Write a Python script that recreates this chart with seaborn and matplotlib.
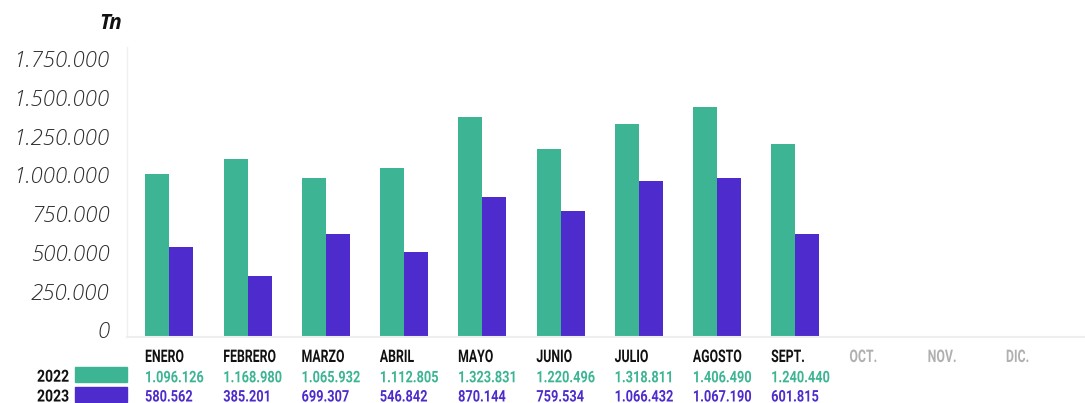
"""Monthly tonnage 2022 vs 2023, grouped bars with a value table underneath."""
import matplotlib
matplotlib.use("Agg")
import matplotlib.pyplot as plt
import matplotlib.transforms as mtransforms
from matplotlib.patches import Rectangle
from matplotlib.patheffects import AbstractPathEffect
import seaborn as sns
import pandas as pd

sns.set_theme(style="white")

months = ["ENERO", "FEBRERO", "MARZO", "ABRIL", "MAYO", "JUNIO",
          "JULIO", "AGOSTO", "SEPT.", "OCT.", "NOV.", "DIC."]
years = ["2022", "2023"]
# bar heights as drawn in the picture (Tn)
tn_2022 = [1052000, 1148000, 1026000, 1090000, 1419000, 1213000, 1374000, 1484000, 1245000]
tn_2023 = [581000, 394000, 665000, 548000, 903000, 813000, 1006000, 1026000, 665000]
# printed figures in the table
labels_2022 = ["1.096.126", "1.168.980", "1.065.932", "1.112.805", "1.323.831",
               "1.220.496", "1.318.811", "1.406.490", "1.240.440"]
labels_2023 = ["580.562", "385.201", "699.307", "546.842", "870.144",
               "759.534", "1.066.432", "1.067.190", "601.815"]
yticks = [0, 250000, 500000, 750000, 1000000, 1250000, 1500000, 1750000]
ytick_labels = ["0", "250.000", "500.000", "750.000", "1.000.000",
                "1.250.000", "1.500.000", "1.750.000"]

GREEN = "#3db594"
PURPLE = "#4e2bcc"
colors = {"2022": GREEN, "2023": PURPLE}


class Squeeze(AbstractPathEffect):
    """Draw text narrower, like a condensed face (none is installed)."""

    def __init__(self, sx):
        super().__init__()
        self.sx = sx

    def draw_path(self, renderer, gc, tpath, affine, rgbFace=None):
        renderer.draw_path(gc, tpath, mtransforms.Affine2D().scale(self.sx, 1) + affine, rgbFace)


n = len(tn_2022)
df = pd.DataFrame({
    "mes": months[:n] * 2,
    "anio": ["2022"] * n + ["2023"] * n,
    "tn": tn_2022 + tn_2023,
})

fig = plt.figure(figsize=(10.85, 4.03), dpi=100)
ax = fig.add_axes([127 / 1085, 66 / 403, 1 - 127 / 1085, 290 / 403])

sns.barplot(data=df, x="mes", y="tn", hue="anio", order=months, hue_order=years,
            palette=colors, width=0.613, saturation=1, legend=False,
            linewidth=0, ax=ax)

ax.set_xlim(-0.54, 11.70)
ax.set_ylim(0, 1870000)
ax.set_xlabel("")
ax.set_ylabel("")
ax.set_xticks([])
ax.set_yticks(yticks)
ax.set_yticklabels(ytick_labels, fontfamily="Open Sans", fontstyle="italic",
                   fontweight="light", fontsize=16, color="#2b2b2b")
ax.tick_params(axis="y", length=9.5, width=1, color="#efefef", pad=3, direction="out")
# labels sit a little above their tick
for lab in ax.get_yticklabels():
    lab.set_transform(lab.get_transform() + mtransforms.ScaledTranslation(0, 7 / 100, fig.dpi_scale_trans))

for side in ["top", "right"]:
    ax.spines[side].set_visible(False)
ax.spines["left"].set_color("#f0f0f0")
ax.spines["bottom"].set_color("#eeeeee")
ax.spines["left"].set_linewidth(1)
ax.spines["bottom"].set_linewidth(1.5)

fig.text(122 / 1085, (403 - 29) / 403, "Tn", ha="right", va="baseline", family="Open Sans",
         fontsize=15, fontweight="bold", fontstyle="italic", color="#111111")

# value table under the chart
tab = mtransforms.blended_transform_factory(ax.transData, fig.transFigure)
tfont = dict(family="Roboto", weight="bold")
for i, m in enumerate(months):
    col = "#111111" if i < n else "#b0b0b0"
    ax.text(i - 0.31, (403 - 362) / 403, m, transform=tab, ha="left", va="baseline",
            fontsize=12.5, color=col, clip_on=False, path_effects=[Squeeze(0.71)], **tfont)
for i in range(n):
    ax.text(i - 0.31, (403 - 382.3) / 403, labels_2022[i], transform=tab, ha="left",
            va="baseline", fontsize=11.5, color=GREEN, clip_on=False,
            path_effects=[Squeeze(0.8)], **tfont)
    ax.text(i - 0.31, (403 - 401.5) / 403, labels_2023[i], transform=tab, ha="left",
            va="baseline", fontsize=11.5, color=PURPLE, clip_on=False,
            path_effects=[Squeeze(0.8)], **tfont)

for yr, base in zip(years, [381.7, 401.5]):
    fig.text(37 / 1085, (403 - base) / 403, yr, ha="left", va="baseline",
             fontsize=12, color="#111111", path_effects=[Squeeze(0.84)], **tfont)
    fig.patches.append(Rectangle((75 / 1085, (403 - base) / 403), 52 / 1085, 15 / 403,
                                 transform=fig.transFigure, color=colors[yr], zorder=3))

fig.savefig("out.png", dpi=100)
